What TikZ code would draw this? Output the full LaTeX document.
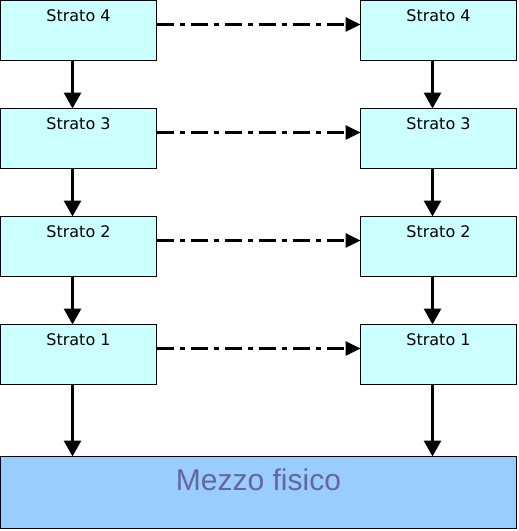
\documentclass[tikz,border=0pt]{standalone}
\usepackage{fontspec}
\setmainfont{DejaVu Sans}
\newfontfamily\mezzofont{Liberation Sans}
\usepackage{tikz}
\usetikzlibrary{arrows.meta, positioning}
\usepackage{xcolor}
\definecolor{stratofill}{HTML}{CCFFFF}
\definecolor{mezzofill}{HTML}{99CCFF}
\definecolor{mezzotext}{HTML}{666699}
\tikzstyle{strato} = [rectangle, minimum width=156pt, inner ysep=9pt, outer sep=0pt, text height=12pt, text depth=30pt, text centered, draw=black, line width=1pt, fill=stratofill, font=\fontsize{16pt}{18pt}\selectfont]
\tikzstyle{mezzo} = [rectangle, minimum width=516pt, inner ysep=8pt, outer sep=0pt, text height=26pt, text depth=30pt, text centered, draw=black, line width=1pt, fill=mezzofill, text=mezzotext, font=\mezzofont\fontsize{30pt}{32pt}\selectfont]
\tikzstyle{downarrow} = [line width=3pt, -{Triangle[length=16pt,width=17pt]}]
\tikzstyle{peerarrow} = [line width=3pt, dash pattern=on 17pt off 6pt on 5pt off 6pt, -{Triangle[length=15pt,width=14pt]}]

\begin{document}
\begin{tikzpicture}[node distance=48pt]
        \useasboundingbox (-0.5pt,0.5pt) rectangle (518.5pt,-530.5pt);
        % left stack
        \node (l4) [strato, anchor=north west] at (0pt,0pt) {Strato 4};
        \node (l3) [strato, below=of l4] {Strato 3};
        \node (l2) [strato, below=of l3] {Strato 2};
        \node (l1) [strato, below=of l2] {Strato 1};
        % right stack
        \node (r4) [strato, right=204pt of l4] {Strato 4};
        \node (r3) [strato, below=of r4] {Strato 3};
        \node (r2) [strato, below=of r3] {Strato 2};
        \node (r1) [strato, below=of r2] {Strato 1};
        \node (mz) [mezzo, below right=72pt and 0pt of l1.south west] {Mezzo fisico};

        \draw [downarrow] ([xshift=-6pt]l4.south) -- ([xshift=-6pt]l3.north);
        \draw [downarrow] ([xshift=-6pt]l3.south) -- ([xshift=-6pt]l2.north);
        \draw [downarrow] ([xshift=-6pt]l2.south) -- ([xshift=-6pt]l1.north);
        \draw [downarrow] ([xshift=-6pt]l1.south) -- ([xshift=-6pt]l1.south |- mz.north);
        \draw [downarrow] ([xshift=-6pt]r4.south) -- ([xshift=-6pt]r3.north);
        \draw [downarrow] ([xshift=-6pt]r3.south) -- ([xshift=-6pt]r2.north);
        \draw [downarrow] ([xshift=-6pt]r2.south) -- ([xshift=-6pt]r1.north);
        \draw [downarrow] ([xshift=-6pt]r1.south) -- ([xshift=-6pt]r1.south |- mz.north);

        \draw [peerarrow] ([yshift=-24pt]l4.north east) -- ([yshift=-24pt]r4.north west);
        \draw [peerarrow] ([yshift=-24pt]l3.north east) -- ([yshift=-24pt]r3.north west);
        \draw [peerarrow] ([yshift=-24pt]l2.north east) -- ([yshift=-24pt]r2.north west);
        \draw [peerarrow] ([yshift=-24pt]l1.north east) -- ([yshift=-24pt]r1.north west);
    \end{tikzpicture}
\end{document}
